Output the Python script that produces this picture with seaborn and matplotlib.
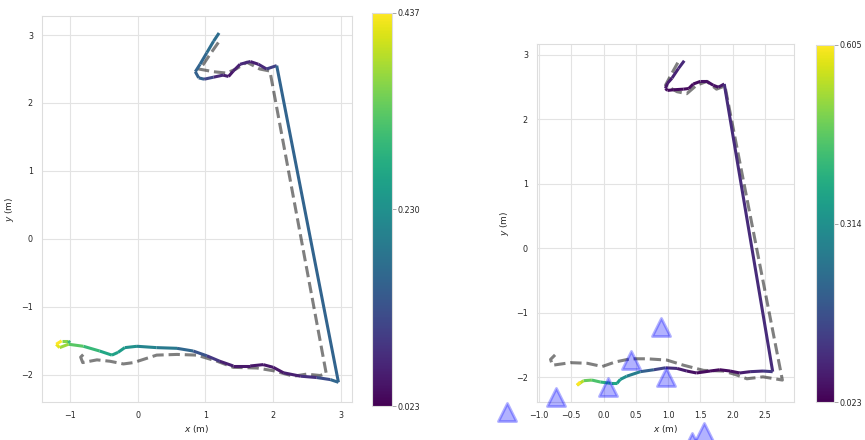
import numpy as np
import matplotlib
matplotlib.use("Agg")
import matplotlib.pyplot as plt
import seaborn as sns
from matplotlib.collections import LineCollection
from matplotlib.colors import Normalize

# --- lewa trajektoria (estymowana) ---
left_x = [1.20, 1.12, 1.02, 0.92, 0.85, 0.90, 0.98, 1.12, 1.26, 1.34, 1.41, 1.51, 1.66, 1.78, 1.90, 2.05,
          2.96, 2.84, 2.64, 2.40, 2.15, 2.00, 1.85, 1.66, 1.41, 1.21, 1.02, 0.82, 0.58, 0.28, -0.01, -0.19,
          -0.29, -0.38, -0.56, -0.80, -1.02, -1.15, -1.20, -1.12, -1.02, -1.00]
left_y = [3.03, 2.91, 2.74, 2.57, 2.46, 2.37, 2.35, 2.38, 2.41, 2.39, 2.47, 2.57, 2.61, 2.57, 2.50, 2.55,
          -2.11, -2.07, -2.04, -2.02, -1.97, -1.89, -1.85, -1.87, -1.87, -1.80, -1.72, -1.65, -1.61, -1.60, -1.58, -1.60,
          -1.67, -1.71, -1.65, -1.58, -1.55, -1.60, -1.55, -1.50, -1.50, -1.53]
left_v = [0.17, 0.17, 0.16, 0.155, 0.15, 0.15, 0.11, 0.07, 0.06, 0.05, 0.06, 0.07, 0.06, 0.07, 0.10, 0.155,
          0.16, 0.12, 0.08, 0.06, 0.05, 0.05, 0.05, 0.05, 0.06, 0.09, 0.13, 0.16, 0.19, 0.21, 0.23, 0.25,
          0.26, 0.27, 0.30, 0.33, 0.375, 0.42, 0.437, 0.36, 0.30, 0.28]
left_ref_x = [1.19, 1.07, 0.97, 0.90, 1.12, 1.31, 1.45, 1.61, 1.80, 1.95, 2.78, 2.69, 2.49, 2.30, 2.00, 1.76,
              1.41, 1.17, 0.87, 0.58, 0.28, -0.06, -0.21, -0.41, -0.60, -0.81, -0.84, -0.76]
left_ref_y = [2.89, 2.72, 2.57, 2.50, 2.46, 2.44, 2.50, 2.60, 2.50, 2.47, -1.98, -2.01, -1.99, -2.02, -1.94, -1.90,
              -1.89, -1.80, -1.71, -1.70, -1.71, -1.82, -1.84, -1.80, -1.78, -1.82, -1.74, -1.66]
left_vmin, left_vmax = 0.023, 0.437

# --- prawa trajektoria ---
right_x = [1.25, 1.16, 1.06, 0.99, 0.96, 0.99, 1.08, 1.24, 1.32, 1.39, 1.50, 1.60, 1.70, 1.78, 1.87,
           2.62, 2.47, 2.27, 2.11, 1.96, 1.80, 1.65, 1.44, 1.29, 1.14, 0.96, 0.78, 0.57, 0.36, 0.26, 0.21,
           0.11, -0.05, -0.18, -0.31, -0.41, -0.36]
right_y = [2.91, 2.79, 2.64, 2.56, 2.48, 2.45, 2.46, 2.47, 2.48, 2.55, 2.59, 2.59, 2.53, 2.50, 2.55,
           -1.91, -1.90, -1.91, -1.93, -1.90, -1.88, -1.90, -1.93, -1.90, -1.86, -1.85, -1.88, -1.91, -1.98, -2.03, -2.09,
           -2.09, -2.07, -2.04, -2.05, -2.12, -2.07]
right_v = [0.09, 0.08, 0.07, 0.06, 0.05, 0.04, 0.04, 0.04, 0.04, 0.04, 0.05, 0.05, 0.05, 0.06, 0.095,
           0.12, 0.10, 0.07, 0.05, 0.04, 0.04, 0.04, 0.05, 0.07, 0.10, 0.14, 0.20, 0.27, 0.31, 0.34, 0.37,
           0.40, 0.44, 0.47, 0.54, 0.605, 0.58]
right_ref_x = [1.15, 1.05, 0.96, 1.14, 1.29, 1.44, 1.60, 1.75, 1.88, 2.77, 2.47, 2.22, 2.06, 1.86, 1.55, 1.24,
               0.98, 0.67, 0.42, 0.18, -0.02, -0.25, -0.51, -0.79, -0.82, -0.75]
right_ref_y = [2.88, 2.70, 2.53, 2.43, 2.40, 2.53, 2.59, 2.47, 2.52, -2.04, -1.99, -2.02, -1.96, -1.90, -1.89, -1.81,
               -1.73, -1.71, -1.71, -1.76, -1.83, -1.78, -1.77, -1.81, -1.72, -1.65]
right_vmin, right_vmax = 0.023, 0.605

# punkty orientacyjne (trójkąty)
lm_x = [0.89, 0.43, 0.97, 0.07, -0.74, -1.49, 1.55, 1.37]
lm_y = [-1.21, -1.73, -1.99, -2.15, -2.30, -2.53, -2.84, -3.00]

sns.set_style("whitegrid")
W, H = 865, 440
fig = plt.figure(figsize=(W / 100, H / 100), dpi=100)


def px_axes(x0, y0, x1, y1):
    return fig.add_axes([x0 / W, 1 - y1 / H, (x1 - x0) / W, (y1 - y0) / H])


def draw_panel(ax, cax, x, y, v, rx, ry, vmin, vmax, xlim, ylim, xticks):
    df = {"x": rx, "y": ry}
    sns.lineplot(data=df, x="x", y="y", sort=False, estimator=None, ax=ax,
                 color="k", alpha=0.5, lw=2.2, linestyle="--", zorder=2)
    pts = np.column_stack([x, y])
    segs = np.stack([pts[:-1], pts[1:]], axis=1)
    lc = LineCollection(segs, cmap="viridis", norm=Normalize(vmin, vmax), linewidth=2.2, zorder=3)
    lc.set_array(np.array(v[:-1]))
    ax.add_collection(lc)
    ax.set_xlim(*xlim)
    ax.set_ylim(*ylim)
    ax.set_xticks(xticks)
    ax.set_yticks([-2, -1, 0, 1, 2, 3])
    ax.set_xlabel("$x$ (m)", fontsize=6.5, labelpad=2)
    ax.set_ylabel("$y$ (m)", fontsize=6.5, labelpad=4)
    ax.tick_params(labelsize=5.8, pad=3)
    for s in ax.spines.values():
        s.set_color("#dddddd")
    ax.grid(color="#e3e3e3", lw=0.8)
    cb = fig.colorbar(lc, cax=cax, ticks=[vmin, (vmin + vmax) / 2, vmax], format="%.3f")
    cb.outline.set_edgecolor("#dddddd")
    cax.tick_params(labelsize=5.8, length=3, width=0.6, color="#999999", pad=1)
    return lc


ax1 = px_axes(42, 16, 352, 402)
cax1 = px_axes(372, 13, 392, 406)
draw_panel(ax1, cax1, left_x, left_y, left_v, left_ref_x, left_ref_y, left_vmin, left_vmax,
           (-1.41, 3.16), (-2.40, 3.28), [-1, 0, 1, 2, 3])

ax2 = px_axes(537, 44, 794, 402)
cax2 = px_axes(816, 45, 834, 402)
draw_panel(ax2, cax2, right_x, right_y, right_v, right_ref_x, right_ref_y, right_vmin, right_vmax,
           (-1.03, 2.95), (-2.38, 3.17), [-1.0, -0.5, 0.0, 0.5, 1.0, 1.5, 2.0, 2.5])
ax2.set_xticklabels(["−1.0", "−0.5", "0.0", "0.5", "1.0", "1.5", "2.0", "2.5"])
sns.scatterplot(x=lm_x, y=lm_y, ax=ax2, marker="^", s=170, color="blue", alpha=0.3,
                edgecolor="blue", linewidth=2, clip_on=False, zorder=4)

fig.savefig("out.png", dpi=100)
